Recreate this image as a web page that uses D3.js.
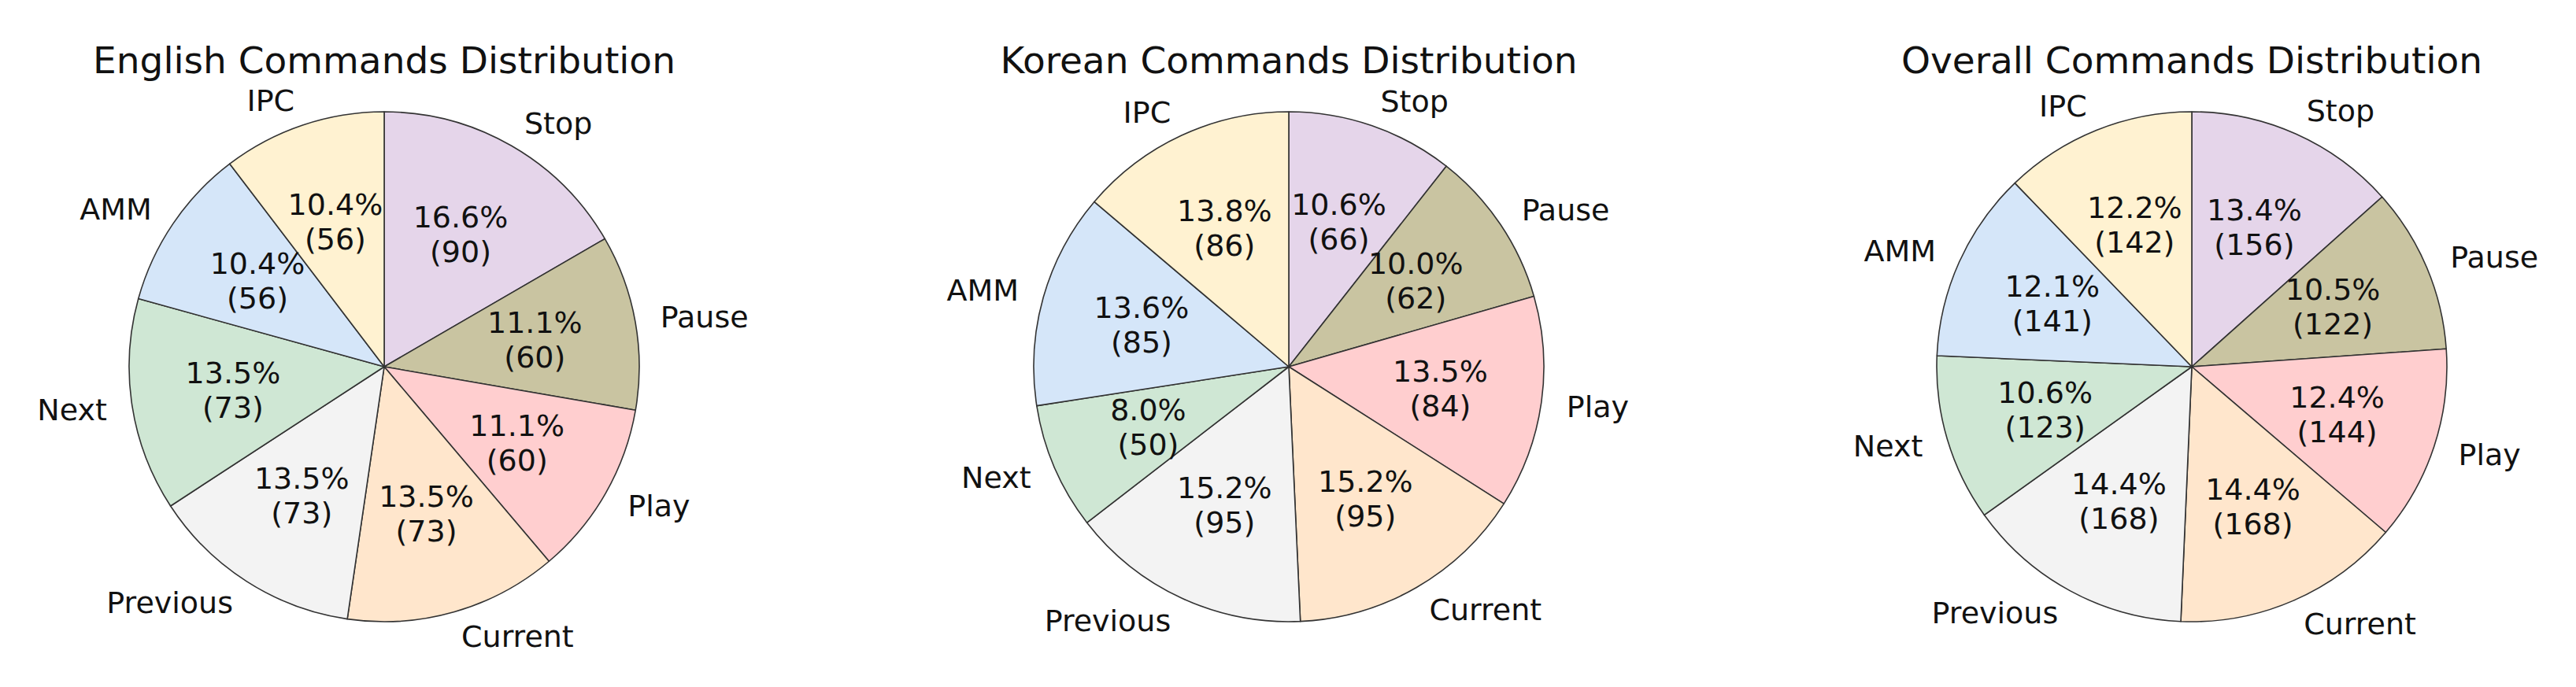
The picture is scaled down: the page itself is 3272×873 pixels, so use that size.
<!DOCTYPE html>
<html>
<head>
<meta charset="utf-8">
<script src="https://cdn.jsdelivr.net/npm/d3@7"></script>
<style>
  html, body { margin: 0; padding: 0; background: #ffffff; }
  svg { display: block; }
  text { font-family: "DejaVu Sans", sans-serif; fill: #111; }
</style>
</head>
<body>
<svg id="chart" width="3272" height="873"></svg>
<script>
// ---- data ----
const categories = ["Stop", "Pause", "Play", "Current", "Previous", "Next", "AMM", "IPC"];
const englishValues = [90, 60, 60, 73, 73, 73, 56, 56];
const koreanValues  = [66, 62, 84, 95, 95, 50, 85, 86];
const overallValues = [156, 122, 144, 168, 168, 123, 141, 142];
const chartTitles = ["English Commands Distribution", "Korean Commands Distribution", "Overall Commands Distribution"];
const sliceColors = ["#e5d5ea", "#c9c4a1", "#ffcecf", "#ffe6cc", "#f3f3f3", "#cfe7d4", "#d5e6f9", "#fff2d1"];

// ---- layout ----
const W = 3272, H = 873;
const centersX = [488, 1637, 2784];
const centerY = 466;
const R = 324;
const labelFont = 38, titleFont = 47;

const svg = d3.select("#chart");
const color = d3.scaleOrdinal().domain(categories).range(sliceColors);
const pie = d3.pie().sort(null).value(d => d.value).startAngle(0).endAngle(2 * Math.PI);
const arc = d3.arc().innerRadius(0).outerRadius(R);

const datasets = [englishValues, koreanValues, overallValues];

datasets.forEach((vals, i) => {
  const data = categories.map((c, j) => ({ cat: c, value: vals[j] }));
  const total = d3.sum(vals);
  const g = svg.append("g").attr("transform", `translate(${centersX[i]},${centerY})`);

  const arcs = pie(data);

  g.selectAll("path.slice").data(arcs).enter().append("path")
    .attr("class", "slice")
    .attr("d", arc)
    .attr("fill", d => color(d.data.cat))
    .attr("stroke", "#333333")
    .attr("stroke-width", 1.6)
    .attr("stroke-linejoin", "round");

  // category labels at 1.1 R
  g.selectAll("text.lbl").data(arcs).enter().append("text")
    .attr("class", "lbl")
    .each(function(d) {
      const a = (d.startAngle + d.endAngle) / 2;
      const x = 1.1 * R * Math.sin(a);
      const y = -1.1 * R * Math.cos(a);
      d3.select(this)
        .attr("x", x).attr("y", y)
        .attr("text-anchor", x > 0 ? "start" : "end")
        .attr("dominant-baseline", "central")
        .attr("font-size", labelFont)
        .text(d.data.cat);
    });

  // percentage labels at 0.6 R
  g.selectAll("text.pct").data(arcs).enter().append("text")
    .attr("class", "pct")
    .attr("text-anchor", "middle")
    .attr("font-size", labelFont)
    .each(function(d) {
      const a = (d.startAngle + d.endAngle) / 2;
      const x = 0.6 * R * Math.sin(a);
      const y = -0.6 * R * Math.cos(a);
      const p = d.data.value / total * 100;
      const t = d3.select(this);
      t.append("tspan").attr("x", x).attr("y", y - 0.58 * labelFont)
        .attr("dominant-baseline", "central").text(p.toFixed(1) + "%");
      t.append("tspan").attr("x", x).attr("y", y + 0.58 * labelFont)
        .attr("dominant-baseline", "central").text("(" + d.data.value + ")");
    });

  svg.append("text")
    .attr("x", centersX[i]).attr("y", 93)
    .attr("text-anchor", "middle")
    .attr("font-size", titleFont)
    .text(chartTitles[i]);
});
</script>
</body>
</html>
